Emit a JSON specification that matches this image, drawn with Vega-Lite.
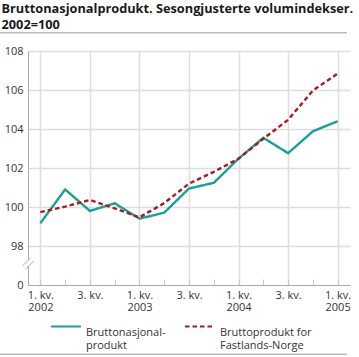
{
  "$schema": "https://vega.github.io/schema/vega-lite/v6.json",
  "width": 322,
  "height": 234,
  "autosize": {"type": "none"},
  "padding": {"left": 28, "top": 51, "right": 9, "bottom": 72},
  "title": {
    "text": ["Bruttonasjonalprodukt. Sesongjusterte volumindekser.", "2002=100"],
    "anchor": "start",
    "dx": 2,
    "fontSize": 12.75,
    "font": "Open Sans",
    "fontWeight": "bold",
    "color": "#1a1a1a",
    "lineHeight": 16,
    "offset": 1
  },
  "config": {
    "view": {"stroke": null},
    "font": "Open Sans"
  },
  "data": {
    "values": [
      {"kvartal": "2002K1", "t": 0, "serie": "Bruttonasjonalprodukt", "indeks": 99.17},
      {"kvartal": "2002K2", "t": 1, "serie": "Bruttonasjonalprodukt", "indeks": 100.9},
      {"kvartal": "2002K3", "t": 2, "serie": "Bruttonasjonalprodukt", "indeks": 99.8},
      {"kvartal": "2002K4", "t": 3, "serie": "Bruttonasjonalprodukt", "indeks": 100.19},
      {"kvartal": "2003K1", "t": 4, "serie": "Bruttonasjonalprodukt", "indeks": 99.4},
      {"kvartal": "2003K2", "t": 5, "serie": "Bruttonasjonalprodukt", "indeks": 99.71},
      {"kvartal": "2003K3", "t": 6, "serie": "Bruttonasjonalprodukt", "indeks": 100.95},
      {"kvartal": "2003K4", "t": 7, "serie": "Bruttonasjonalprodukt", "indeks": 101.24},
      {"kvartal": "2004K1", "t": 8, "serie": "Bruttonasjonalprodukt", "indeks": 102.48},
      {"kvartal": "2004K2", "t": 9, "serie": "Bruttonasjonalprodukt", "indeks": 103.55},
      {"kvartal": "2004K3", "t": 10, "serie": "Bruttonasjonalprodukt", "indeks": 102.76},
      {"kvartal": "2004K4", "t": 11, "serie": "Bruttonasjonalprodukt", "indeks": 103.88},
      {"kvartal": "2005K1", "t": 12, "serie": "Bruttonasjonalprodukt", "indeks": 104.4},
      {"kvartal": "2002K1", "t": 0, "serie": "Bruttoprodukt for Fastlands-Norge", "indeks": 99.74},
      {"kvartal": "2002K2", "t": 1, "serie": "Bruttoprodukt for Fastlands-Norge", "indeks": 100.02},
      {"kvartal": "2002K3", "t": 2, "serie": "Bruttoprodukt for Fastlands-Norge", "indeks": 100.36},
      {"kvartal": "2002K4", "t": 3, "serie": "Bruttoprodukt for Fastlands-Norge", "indeks": 99.93},
      {"kvartal": "2003K1", "t": 4, "serie": "Bruttoprodukt for Fastlands-Norge", "indeks": 99.47},
      {"kvartal": "2003K2", "t": 5, "serie": "Bruttoprodukt for Fastlands-Norge", "indeks": 100.2},
      {"kvartal": "2003K3", "t": 6, "serie": "Bruttoprodukt for Fastlands-Norge", "indeks": 101.2},
      {"kvartal": "2003K4", "t": 7, "serie": "Bruttoprodukt for Fastlands-Norge", "indeks": 101.8},
      {"kvartal": "2004K1", "t": 8, "serie": "Bruttoprodukt for Fastlands-Norge", "indeks": 102.48},
      {"kvartal": "2004K2", "t": 9, "serie": "Bruttoprodukt for Fastlands-Norge", "indeks": 103.5},
      {"kvartal": "2004K3", "t": 10, "serie": "Bruttoprodukt for Fastlands-Norge", "indeks": 104.47},
      {"kvartal": "2004K4", "t": 11, "serie": "Bruttoprodukt for Fastlands-Norge", "indeks": 105.97},
      {"kvartal": "2005K1", "t": 12, "serie": "Bruttoprodukt for Fastlands-Norge", "indeks": 106.84}
    ]
  },
  "layer": [
    {
      "mark": {"type": "line", "strokeWidth": 2.4},
      "encoding": {
        "x": {
          "field": "t",
          "type": "quantitative",
          "scale": {"domain": [-0.5, 12.5], "nice": false, "zero": false},
          "axis": {
            "title": null,
            "values": [0, 1, 2, 3, 4, 5, 6, 7, 8, 9, 10, 11, 12],
            "tickCount": 30,
            "labelExpr": "datum.value % 4 == 0 ? ['1. kv.', '' + (2002 + datum.value / 4)] : (datum.value % 4 == 2 ? '3. kv.' : '')",
            "labelFontSize": 11,
            "labelColor": "#333",
            "labelLineHeight": 12,
            "labelPadding": 10,
            "labelBaseline": "top",
            "labelOverlap": false,
            "tickSize": -6,
            "tickColor": "#c8c8c8",
            "domainColor": "#aaaaaa",
            "gridColor": {"condition": {"test": "datum.value % 2 == 1", "value": "transparent"}, "value": "#dedede"},
            "gridWidth": 1.5
          }
        },
        "y": {
          "field": "indeks",
          "type": "quantitative",
          "scale": {"domain": [96, 108], "nice": false, "zero": false},
          "axis": {
            "title": null,
            "values": [96, 98, 100, 102, 104, 106, 108],
            "tickCount": 30,
            "format": "d",
            "labelExpr": "datum.value == 96 ? '0' : datum.label",
            "labelFontSize": 11,
            "labelColor": "#333",
            "labelPadding": 5,
            "labelOverlap": false,
            "tickSize": 0,
            "domainColor": "#aaaaaa",
            "gridColor": {"condition": {"test": "datum.value == 96", "value": "transparent"}, "value": "#dedede"},
            "gridWidth": 1.5
          }
        },
        "color": {
          "field": "serie",
          "type": "nominal",
          "scale": {"domain": ["Bruttonasjonalprodukt", "Bruttoprodukt for Fastlands-Norge"], "range": ["#1c9e99", "#a81c1c"]},
          "legend": {
            "orient": "none",
            "legendX": 22,
            "legendY": 266,
            "title": null,
            "direction": "horizontal",
            "symbolType": "M-1,-0.43L1,-0.43",
            "symbolSize": 900,
            "symbolStrokeWidth": 2,
            "labelFontSize": 11,
            "labelColor": "#333",
            "labelLineHeight": 13,
            "columnPadding": 15,
            "labelExpr": "datum.label == 'Bruttonasjonalprodukt' ? ['Bruttonasjonal-', 'produkt'] : ['Bruttoprodukt for', 'Fastlands-Norge']"
          }
        },
        "strokeDash": {
          "field": "serie",
          "type": "nominal",
          "scale": {"domain": ["Bruttonasjonalprodukt", "Bruttoprodukt for Fastlands-Norge"], "range": [[1, 0], [4.5, 3]]},
          "legend": null
        }
      }
    },
    {
      "data": {"values": [{}]},
      "mark": {"type": "rule", "color": "#999999", "strokeWidth": 1},
      "encoding": {
        "x": {"datum": -1.63, "type": "quantitative"},
        "x2": {"datum": 12.38},
        "y": {"datum": 108.93, "type": "quantitative"}
      }
    },
    {
      "data": {"values": [{}]},
      "mark": {"type": "rule", "color": "#999999", "strokeWidth": 1},
      "encoding": {
        "x": {"datum": -1.63, "type": "quantitative"},
        "x2": {"datum": 12.38},
        "y": {"datum": 92.45, "type": "quantitative"}
      }
    },
    {
      "data": {"values": [{}]},
      "mark": {"type": "point", "shape": "M-0.55,0.25L0.25,-0.55L0.55,-0.25L-0.25,0.55Z", "filled": true, "fill": "white", "strokeWidth": 0, "size": 440, "opacity": 1},
      "encoding": {
        "x": {"datum": -0.5, "type": "quantitative"},
        "y": {"datum": 97.1, "type": "quantitative"}
      }
    },
    {
      "data": {"values": [{}]},
      "mark": {"type": "point", "shape": "M-0.55,0.25L0.25,-0.55M-0.25,0.55L0.55,-0.25", "filled": false, "stroke": "#aaaaaa", "strokeWidth": 1, "size": 440, "opacity": 1},
      "encoding": {
        "x": {"datum": -0.5, "type": "quantitative"},
        "y": {"datum": 97.1, "type": "quantitative"}
      }
    }
  ]
}
